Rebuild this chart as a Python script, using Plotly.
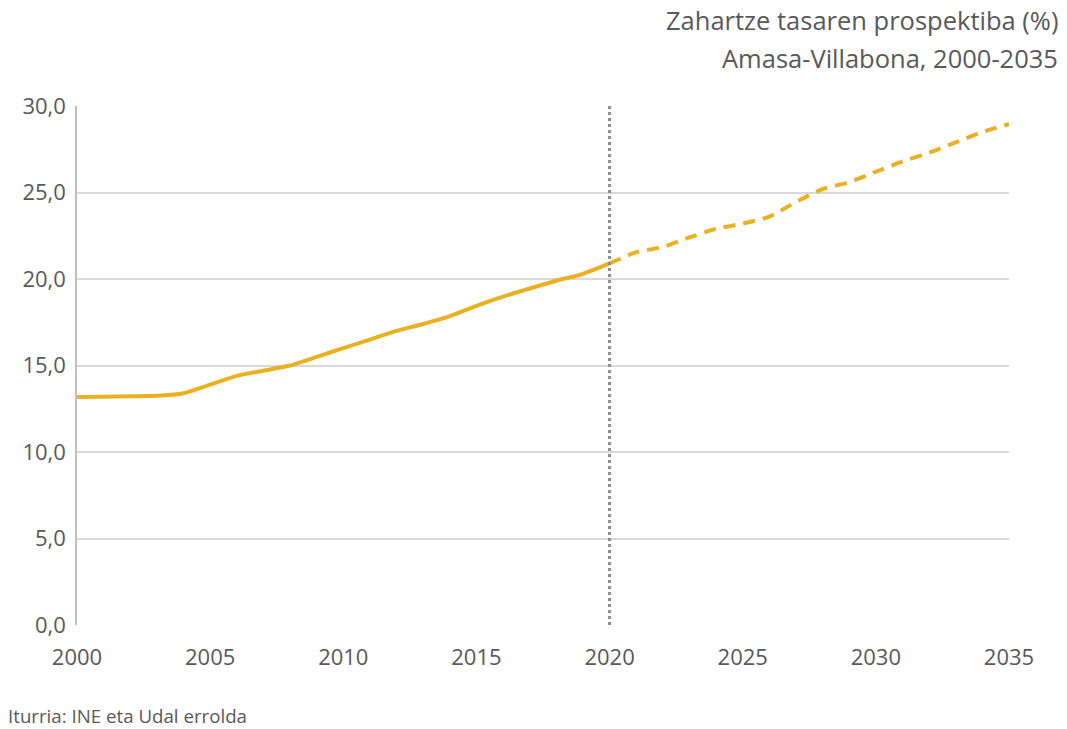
import plotly.graph_objects as go

years_hist = list(range(2000, 2021))
values_hist = [13.18, 13.2, 13.22, 13.25, 13.4, 13.9, 14.4, 14.7, 15.0, 15.5, 16.0,
               16.5, 17.0, 17.4, 17.85, 18.45, 18.98, 19.45, 19.9, 20.3, 20.9]
years_proj = list(range(2020, 2036))
values_proj = [20.9, 21.55, 21.85, 22.4, 22.9, 23.2, 23.6, 24.45, 25.2, 25.6, 26.2,
               26.8, 27.3, 27.9, 28.5, 28.95]
x_ticks = [2000, 2005, 2010, 2015, 2020, 2025, 2030, 2035]
y_ticks = [0, 5, 10, 15, 20, 25, 30]
divider_year = 2020

title_line1 = "Zahartze tasaren prospektiba (%)"
title_line2 = "Amasa-Villabona, 2000-2035"
source_text = "Iturria: INE eta Udal errolda"

color = "#EBB022"
text_color = "#595959"
font_family = "Open Sans, Liberation Sans, sans-serif"

fig = go.Figure()
fig.add_trace(go.Scatter(x=years_hist, y=values_hist, mode="lines",
                         line=dict(color=color, width=4, shape="spline", smoothing=0.6),
                         showlegend=False, hoverinfo="x+y"))
fig.add_trace(go.Scatter(x=years_proj, y=values_proj, mode="lines",
                         line=dict(color=color, width=4, dash="12px,8px", shape="spline", smoothing=0.6),
                         showlegend=False, hoverinfo="x+y"))

fig.add_shape(type="line", x0=divider_year, x1=divider_year, y0=0, y1=30, xref="x", yref="y",
              line=dict(color="#8C8C8C", width=3, dash="dot"))

fig.add_annotation(text=title_line1, xref="paper", yref="paper",
                   x=1.0547, y=1.1657, xanchor="right", yanchor="middle", showarrow=False,
                   font=dict(family=font_family, size=25.5, color=text_color))
fig.add_annotation(text=title_line2, xref="paper", yref="paper",
                   x=1.0547, y=1.0925, xanchor="right", yanchor="middle", showarrow=False,
                   font=dict(family=font_family, size=25.5, color=text_color))
fig.add_annotation(text=source_text, xref="paper", yref="paper",
                   x=-0.076, y=-0.1753, xanchor="left", yanchor="middle", showarrow=False,
                   font=dict(family=font_family, size=18.7, color=text_color))

fig.update_layout(
    width=1067, height=729,
    margin=dict(l=77, r=58, t=106, b=104),
    plot_bgcolor="white", paper_bgcolor="white",
    font=dict(family=font_family, color=text_color, size=22),
    xaxis=dict(range=[2000, 2035], tickvals=x_ticks, showgrid=False, zeroline=False,
               showline=False, ticks="", ticklabelstandoff=17,
               tickfont=dict(size=22, color=text_color)),
    yaxis=dict(range=[0, 30], tickvals=y_ticks, tickformat=".1f", showgrid=True,
               gridcolor="#D9D9D9", gridwidth=1.5, zeroline=False, showline=True,
               linecolor="#BFBFBF", linewidth=1.5, ticks="", ticklabelstandoff=5,
               tickfont=dict(size=22, color=text_color)),
    separators=",.",
)

fig.write_html("out.html", config={"displayModeBar": False},
               post_script="document.body.style.margin='0';")
